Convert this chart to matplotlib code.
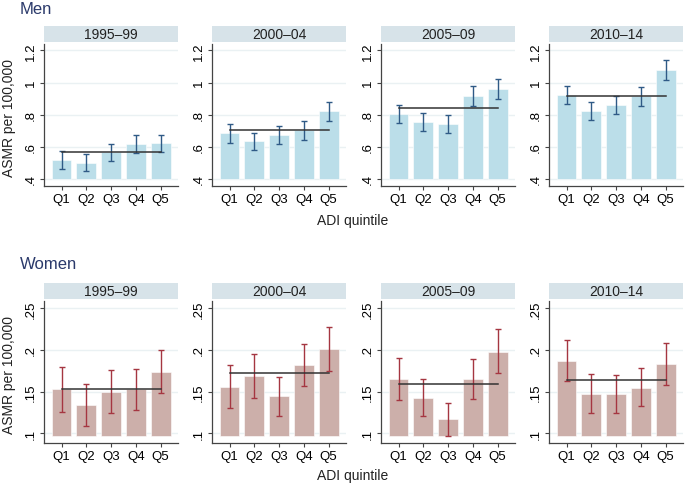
import matplotlib
matplotlib.use('Agg')
import matplotlib.pyplot as plt

plt.rcParams['font.family'] = ['Liberation Sans', 'DejaVu Sans']

quintiles = ['Q1', 'Q2', 'Q3', 'Q4', 'Q5']
periods = ['1995\u201399', '2000\u201304', '2005\u201309', '2010\u201314']

# men: ASMR per quintile, 95% CI, period mean
men_rate = [[0.517, 0.500, 0.568, 0.618, 0.622],
            [0.683, 0.635, 0.672, 0.706, 0.821],
            [0.802, 0.756, 0.743, 0.915, 0.961],
            [0.921, 0.823, 0.861, 0.917, 1.076]]
men_lo = [[0.463, 0.450, 0.509, 0.563, 0.568],
          [0.624, 0.578, 0.618, 0.645, 0.762],
          [0.746, 0.700, 0.689, 0.857, 0.900],
          [0.865, 0.768, 0.806, 0.857, 1.016]]
men_hi = [[0.574, 0.555, 0.618, 0.674, 0.676],
          [0.741, 0.687, 0.727, 0.758, 0.882],
          [0.863, 0.810, 0.798, 0.978, 1.024],
          [0.980, 0.877, 0.915, 0.970, 1.139]]
men_mean = [0.570, 0.706, 0.840, 0.919]

women_rate = [[0.1527, 0.1335, 0.1500, 0.1535, 0.1740],
              [0.1560, 0.1682, 0.1440, 0.1818, 0.2006],
              [0.1646, 0.1420, 0.1164, 0.1646, 0.1980],
              [0.1870, 0.1475, 0.1471, 0.1547, 0.1830]]
women_lo = [[0.1255, 0.1088, 0.1247, 0.1280, 0.1487],
            [0.1307, 0.1420, 0.1210, 0.1567, 0.1746],
            [0.1400, 0.1200, 0.0968, 0.1410, 0.1722],
            [0.1627, 0.1247, 0.1243, 0.1320, 0.1583]]
women_hi = [[0.1800, 0.1587, 0.1760, 0.1770, 0.1998],
            [0.1818, 0.1950, 0.1678, 0.2073, 0.2273],
            [0.1898, 0.1650, 0.1363, 0.1890, 0.2253],
            [0.2125, 0.1710, 0.1700, 0.1780, 0.2082]]
women_mean = [0.1535, 0.1722, 0.1587, 0.1642]

W, H = 685, 485
panel_left = [44, 212, 381, 549]
panel_w = 134

def px(x0, y0, w, h):
    return [x0 / W, 1 - (y0 + h) / H, w / W, h / H]

def draw_group(fig, rate, lo, hi, mean, top, base, ylim, yticks, yticklabels,
               bar_c, err_c, title, title_y, xlab_y, ylab_y):
    x = list(range(1, 6))
    for i, p in enumerate(periods):
        ax = fig.add_axes(px(panel_left[i], top, panel_w, 142))
        hgt = [r - base for r in rate[i]]
        ax.bar(x, hgt, bottom=base, width=0.8, color=bar_c,
               edgecolor='#ffffff', linewidth=0.4, zorder=2)
        yerr = [[r - l for r, l in zip(rate[i], lo[i])],
                [h - r for r, h in zip(rate[i], hi[i])]]
        ax.errorbar(x, rate[i], yerr=yerr, fmt='none', ecolor=err_c,
                    elinewidth=1.0, capsize=2.2, capthick=1.0, zorder=3)
        ax.plot([1, 5], [mean[i], mean[i]], color='#333333', lw=1.1, zorder=4)
        ax.set_xlim(0.29, 5.7)
        ax.set_ylim(*ylim)
        ax.set_yticks(yticks)
        ax.set_yticklabels(yticklabels, rotation=90, va='center')
        ax.set_xticks(x)
        ax.set_xticklabels(quintiles)
        for yv in yticks:
            ax.axhline(yv, color='#eaf1f3', lw=1.0, zorder=1)
        ax.tick_params(axis='both', labelsize=9.5, color='#444444',
                       length=3, width=0.8, pad=2)
        for s in ['top', 'right']:
            ax.spines[s].set_visible(False)
        for s in ['left', 'bottom']:
            ax.spines[s].set_color('#444444')
            ax.spines[s].set_linewidth(0.9)

        st = fig.add_axes(px(panel_left[i], top - 18, panel_w, 16))
        st.set_facecolor('#d7e3e9')
        st.set_xticks([])
        st.set_yticks([])
        for s in st.spines.values():
            s.set_visible(False)
        st.text(0.5, 0.5, p, ha='center', va='center', fontsize=10,
                color='#222222', transform=st.transAxes)

    fig.text(20 / W, 1 - title_y / H, title, ha='left', va='center',
             fontsize=12, color='#2b3a6b')
    fig.text(353 / W, 1 - xlab_y / H, 'ADI quintile', ha='center',
             va='center', fontsize=10, color='#222222')
    fig.text(9 / W, 1 - ylab_y / H, 'ASMR per 100,000', ha='center',
             va='center', rotation=90, fontsize=10, color='#222222')

fig = plt.figure(figsize=(W / 100, H / 100), dpi=100)

draw_group(fig, men_rate, men_lo, men_hi, men_mean, top=45, base=0.4,
           ylim=(0.356, 1.24), yticks=[0.4, 0.6, 0.8, 1.0, 1.2],
           yticklabels=['.4', '.6', '.8', '1', '1.2'],
           bar_c='#bbdee9', err_c='#2f5a86', title='Men', title_y=10,
           xlab_y=221, ylab_y=118)

draw_group(fig, women_rate, women_lo, women_hi, women_mean, top=302, base=0.097,
           ylim=(0.088, 0.259), yticks=[0.10, 0.15, 0.20, 0.25],
           yticklabels=['.1', '.15', '.2', '.25'],
           bar_c='#ccafaa', err_c='#a53641', title='Women', title_y=265,
           xlab_y=476, ylab_y=375)

fig.savefig('out.png', dpi=100)
